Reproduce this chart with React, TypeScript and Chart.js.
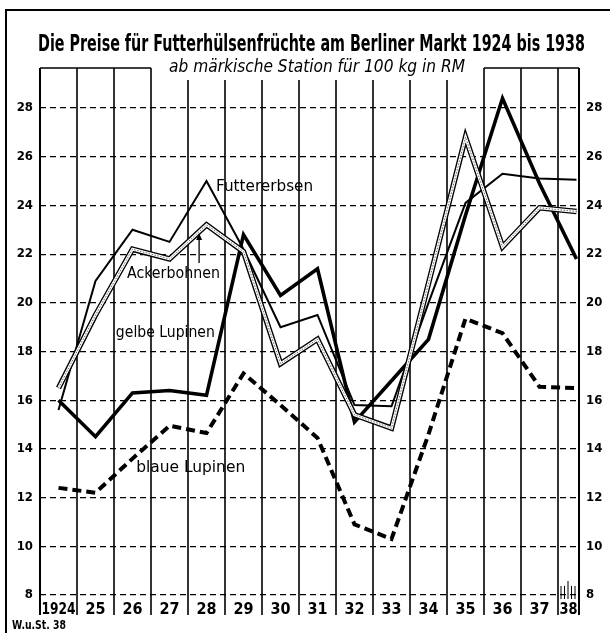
import { useEffect, useRef } from "react";
import { Chart, registerables } from "chart.js";

Chart.register(...registerables);

// ---- data ----
const years = [1924, 1925, 1926, 1927, 1928, 1929, 1930, 1931, 1932, 1933, 1934, 1935, 1936, 1937, 1938];
const yearLabels = ["1924", "25", "26", "27", "28", "29", "30", "31", "32", "33", "34", "35", "36", "37", "38"];
const futtererbsen = [15.6, 20.9, 23.0, 22.5, 25.0, 22.2, 19.0, 19.5, 15.8, 15.75, 20.0, 24.1, 25.3, 25.1, 25.05];
const ackerbohnen = [16.5, 19.5, 22.2, 21.8, 23.2, 22.1, 17.5, 18.5, 15.4, 14.85, 20.8, 26.8, 22.3, 23.9, 23.75];
const gelbeLupinen = [16.0, 14.5, 16.3, 16.4, 16.2, 22.8, 20.3, 21.4, 15.1, 16.8, 18.5, 23.6, 28.4, 24.9, 21.8];
const blaueLupinen = [12.4, 12.2, 13.6, 14.95, 14.65, 17.1, 15.8, 14.45, 10.9, 10.3, 14.6, 19.35, 18.75, 16.55, 16.5];
const yTicks = [8, 10, 12, 14, 16, 18, 20, 22, 24, 26, 28];
const seriesNames = ["Futtererbsen", "Ackerbohnen", "gelbe Lupinen", "blaue Lupinen"];
const titleText = "Die Preise für Futterhülsenfrüchte am Berliner Markt 1924 bis 1938";
const subtitleText = "ab märkische Station für 100 kg in RM";
const sourceText = "W.u.St. 38";

const FONT = '"DejaVu Sans Condensed", "Liberation Sans Narrow", "DejaVu Sans", sans-serif';
const W = 610;
const H = 633;
const PLOT_TOP = 68;
const PLOT_BOTTOM = 615;
const PLOT_LEFT = 40;
const PLOT_RIGHT = 579;

const pts = (vals: number[]) => years.map((y, i) => ({ x: y, y: vals[i] }));

function fitText(ctx: CanvasRenderingContext2D, text: string, x: number, y: number, width: number, font: string, align: "left" | "center") {
  ctx.save();
  ctx.font = font;
  const w = ctx.measureText(text).width;
  const s = width / w;
  ctx.translate(x, y);
  ctx.scale(s, 1);
  ctx.textAlign = align;
  ctx.fillText(text, 0, 0);
  ctx.restore();
}

const decor = {
  id: "decor",
  beforeDraw(chart: any) {
    const ctx = chart.ctx;
    ctx.save();
    ctx.fillStyle = "#fff";
    ctx.fillRect(0, 0, chart.width, chart.height);
    ctx.restore();
  },
  beforeDatasetsDraw(chart: any) {
    const ctx: CanvasRenderingContext2D = chart.ctx;
    const xs = chart.scales.x;
    const a = chart.chartArea;
    ctx.save();
    ctx.strokeStyle = "#000";
    const gapL = 151;
    const gapR = 484;
    const bounds: number[] = [];
    for (let k = 0; k < years.length; k++) bounds.push(xs.getPixelForValue(years[k] - 0.5));
    bounds.push(a.right);
    bounds.forEach((px, i) => {
      const inGap = px > gapL + 5 && px < gapR - 5;
      ctx.lineWidth = i === 0 || i === bounds.length - 1 ? 2 : 1.6;
      ctx.beginPath();
      ctx.moveTo(px, inGap ? a.top + 12 : a.top);
      ctx.lineTo(px, a.bottom);
      ctx.stroke();
    });
    // top border with gap for subtitle
    ctx.lineWidth = 1.6;
    ctx.beginPath();
    ctx.moveTo(a.left, a.top);
    ctx.lineTo(gapL, a.top);
    ctx.moveTo(gapR, a.top);
    ctx.lineTo(a.right, a.top);
    ctx.stroke();
    // hatch marks in last column
    const ys = chart.scales.y;
    const y8 = ys.getPixelForValue(8);
    const last = bounds[bounds.length - 2];
    ctx.lineWidth = 1;
    for (let j = 0; j < 5; j++) {
      const hx = last + 3 + j * 3.5;
      ctx.beginPath();
      ctx.moveTo(hx, j === 2 ? y8 - 14 : y8 - 9);
      ctx.lineTo(hx, y8 + 4);
      ctx.stroke();
    }
    ctx.restore();
  },
  afterDatasetsDraw(chart: any) {
    const ctx: CanvasRenderingContext2D = chart.ctx;
    const xs = chart.scales.x;
    const ys = chart.scales.y;
    const a = chart.chartArea;
    ctx.save();
    ctx.fillStyle = "#000";
    ctx.textBaseline = "middle";
    const lab = (t: string, xv: number, yv: number, w: number) =>
      fitText(ctx, t, xs.getPixelForValue(xv), ys.getPixelForValue(yv), w, `15px ${FONT}`, "left");
    lab(seriesNames[0], 1928.26, 24.76, 97);
    lab(seriesNames[1], 1925.85, 21.18, 93);
    lab(seriesNames[2], 1925.55, 18.76, 99);
    lab(seriesNames[3], 1926.1, 13.22, 109);
    // arrow to Ackerbohnen line
    const ax = xs.getPixelForValue(1927.8);
    const ay0 = ys.getPixelForValue(21.63);
    const ay1 = ys.getPixelForValue(22.87);
    ctx.strokeStyle = "#000";
    ctx.lineWidth = 1.3;
    ctx.beginPath();
    ctx.moveTo(ax, ay0);
    ctx.lineTo(ax, ay1 + 2);
    ctx.stroke();
    ctx.beginPath();
    ctx.moveTo(ax, ay1);
    ctx.lineTo(ax - 3, ay1 + 7);
    ctx.lineTo(ax + 3, ay1 + 7);
    ctx.closePath();
    ctx.fill();
    // x labels
    ctx.textBaseline = "alphabetic";
    ctx.font = `bold 16px ${FONT}`;
    ctx.textAlign = "center";
    years.forEach((yr, i) => {
      const l = xs.getPixelForValue(yr - 0.5);
      const r = Math.min(xs.getPixelForValue(yr + 0.5), a.right);
      const cx = (l + r) / 2;
      const w = ctx.measureText(yearLabels[i]).width;
      const maxW = r - l - 3;
      if (w > maxW) {
        fitText(ctx, yearLabels[i], cx, a.bottom - 1, maxW, `bold 16px ${FONT}`, "center");
      } else {
        ctx.fillText(yearLabels[i], cx, a.bottom - 1);
      }
    });
    ctx.restore();
  },
  afterDraw(chart: any) {
    const ctx: CanvasRenderingContext2D = chart.ctx;
    ctx.save();
    ctx.fillStyle = "#000";
    ctx.textBaseline = "alphabetic";
    fitText(ctx, titleText, 311.5, 51, 547, `bold 23px ${FONT}`, "center");
    fitText(ctx, subtitleText, 317, PLOT_TOP + 4, 296, `italic 17px ${FONT}`, "center");
    ctx.font = `bold 12px ${FONT}`;
    ctx.textAlign = "left";
    fitText(ctx, sourceText, 12, 629, 54, `bold 12px ${FONT}`, "left");
    // outer frame
    ctx.strokeStyle = "#000";
    ctx.lineWidth = 2;
    ctx.beginPath();
    ctx.moveTo(6, H);
    ctx.lineTo(6, 10);
    ctx.lineTo(W, 10);
    ctx.stroke();
    ctx.restore();
  },
};

export default function App() {
  const ref = useRef<HTMLCanvasElement | null>(null);
  useEffect(() => {
    document.body.style.margin = "0";
    const canvas = ref.current!;
    const yMin = 8 - (PLOT_BOTTOM - 595) / 24.35;
    const yMax = 28 + (108 - PLOT_TOP) / 24.35;
    const xMin = years[0] - 0.5;
    const xMax = xMin + (PLOT_RIGHT - PLOT_LEFT) / 37;
    const common = { pointRadius: 0, tension: 0, borderJoinStyle: "miter" as const, borderCapStyle: "butt" as const, fill: false };
    const chart = new Chart(canvas, {
      type: "line",
      data: {
        datasets: [
          { ...common, label: seriesNames[3], data: pts(blaueLupinen), borderColor: "#000", borderWidth: 4, borderDash: [9, 5], order: 6 },
          { ...common, label: seriesNames[2], data: pts(gelbeLupinen), borderColor: "#000", borderWidth: 3.6, order: 5 },
          { ...common, label: seriesNames[0], data: pts(futtererbsen), borderColor: "#000", borderWidth: 2, order: 4 },
          { ...common, label: seriesNames[1], data: pts(ackerbohnen), borderColor: "#000", borderWidth: 5.5, order: 3 },
          { ...common, label: seriesNames[1] + " inner", data: pts(ackerbohnen), borderColor: "#fff", borderWidth: 2.8, order: 2 },
          { ...common, label: seriesNames[1] + " dots", data: pts(ackerbohnen), borderColor: "#666", borderWidth: 1, borderDash: [1.5, 1.5], order: 1 },
        ],
      },
      options: {
        responsive: false,
        animation: false,
        layout: { padding: { top: PLOT_TOP, bottom: H - PLOT_BOTTOM, left: 0, right: 0 } },
        plugins: { legend: { display: false }, tooltip: { enabled: false }, title: { display: false } },
        scales: {
          x: { type: "linear", min: xMin, max: xMax, display: false },
          y: {
            type: "linear",
            position: "left",
            min: yMin,
            max: yMax,
            afterBuildTicks: (s: any) => { s.ticks = yTicks.map((v) => ({ value: v })); },
            afterFit: (s: any) => { s.width = PLOT_LEFT; },
            ticks: { color: "#000", padding: 7, font: { family: FONT, size: 13, weight: "bold" } },
            grid: { color: "#000", lineWidth: 1.2, drawTicks: false },
            border: { display: false, dash: [6, 4] },
          },
          y2: {
            type: "linear",
            position: "right",
            min: yMin,
            max: yMax,
            afterBuildTicks: (s: any) => { s.ticks = yTicks.map((v) => ({ value: v })); },
            afterFit: (s: any) => { s.width = W - PLOT_RIGHT; },
            ticks: { color: "#000", padding: 7, font: { family: FONT, size: 13, weight: "bold" } },
            grid: { display: false, drawTicks: false },
            border: { display: false },
          },
        },
      },
      plugins: [decor],
    });
    return () => chart.destroy();
  }, []);
  return <canvas ref={ref} width={W} height={H} style={{ display: "block", width: W, height: H }} />;
}
